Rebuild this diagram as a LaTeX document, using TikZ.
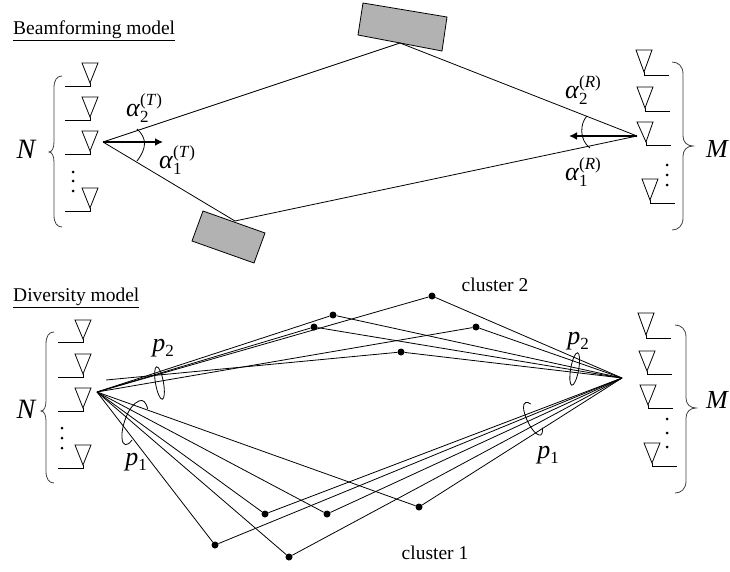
\documentclass[tikz,border=0pt]{standalone}
\usepackage{fontspec}
\setmainfont{Liberation Serif}
\usetikzlibrary{arrows.meta}
\tikzset{
 x=1pt,y=-1pt,
 ln/.style={line width=0.8pt,black},
 ant/.style={line width=0.8pt,black,line join=miter},
 brc/.style={line width=0.8pt,black!75},
 sc/.style={draw=black,line width=0.8pt,fill=black!30},
 pt/.style={circle,fill=black,inner sep=0pt,minimum size=7pt},
 hd/.style={inner sep=0pt,font=\fontsize{19.5}{22}\selectfont},
 big/.style={inner sep=0pt,font=\fontsize{28}{30}\selectfont\itshape},
 bigm/.style={inner sep=0pt,font=\fontsize{26}{28}\selectfont\itshape},
 lab/.style={inner sep=0pt,font=\fontsize{26}{28}\selectfont},
 cl/.style={inner sep=0pt,font=\fontsize{19.5}{22}\selectfont},
 dotn/.style={circle,fill=black,inner sep=0pt,minimum size=3pt},
 thick arrow/.style={line width=1.6pt,-{Latex[length=8pt,width=8pt]}},
}
\newcommand{\antenna}[6]{%
 \draw[ant] (#1,#2) -- (#1+16,#2) -- (#3,#4-3) -- cycle;
 \draw[ant] (#3,#4-3) -- (#3,#4) -- (#5,#4);
 \coordinate (#6) at (#5,#4);
}
\newcommand{\bracel}[4]{%
 \draw[brc] (#1,#2) .. controls (#1-5,#2) and (#1-8,#2+4) .. (#1-8,#2+12)
  -- (#1-8,#3-10) .. controls (#1-8,#3-4) and (#1-10,#3) .. (#1-13,#3)
  .. controls (#1-10,#3) and (#1-8,#3+4) .. (#1-8,#3+10)
  -- (#1-8,#4-12) .. controls (#1-8,#4-4) and (#1-5,#4) .. (#1,#4);
}
\newcommand{\bracer}[4]{%
 \draw[brc] (#1,#2) .. controls (#1+6,#2) and (#1+11,#2+4) .. (#1+11,#2+12)
  -- (#1+11,#3-10) .. controls (#1+11,#3-4) and (#1+15,#3) .. (#1+21,#3)
  .. controls (#1+15,#3) and (#1+11,#3+4) .. (#1+11,#3+10)
  -- (#1+11,#4-12) .. controls (#1+11,#4-4) and (#1+6,#4) .. (#1,#4);
}
\newcommand{\alphalab}[2]{\textit{α}\rlap{\raisebox{-6pt}{\fontsize{17}{18}\selectfont #1}}\raisebox{11pt}{\fontsize{17}{18}\selectfont (\textit{#2})}}
\newcommand{\plab}[1]{\textit{p}\raisebox{-5pt}{\fontsize{17}{18}\selectfont #1}}
\begin{document}
\begin{tikzpicture}
\useasboundingbox (0,0) rectangle (730,572);
% ---------- headings
\node[hd,anchor=west] (h1) at (13,31) {\underline{Beamforming model}};
\node[hd,anchor=west] (h2) at (13,298) {\underline{Diversity model}};
% ---------- top antennas left
\antenna{82}{63}{90}{86}{65}{a1}
\antenna{82}{97}{90}{120}{65}{a2}
\antenna{82}{131}{90}{154}{65}{a3}
\antenna{82}{188}{90}{211}{65}{a4}
\foreach \n/\y in {d1/172,d2/181,d3/191}{\node[dotn] (\n) at (73,\y) {};}
\bracel{62}{76}{152}{227}
\node[big] (N1) at (26,149) {N};
% top antennas right
\antenna{636}{50}{644}{75}{669}{b1}
\antenna{637}{87}{645}{111}{670}{b2}
\antenna{637}{122}{646}{145}{671}{b3}
\antenna{642}{179}{650}{203}{675}{b4}
\foreach \n/\y in {e1/165,e2/175,e3/185}{\node[dotn] (\n) at (667,\y) {};}
\bracer{672}{62}{146}{230}
\node[bigm] (M1) at (717,149) {M};
% scatterers
\draw[sc] (363,3) -- (447,17) -- (442,51) -- (358,35) -- cycle;
\draw[sc] (203,211) -- (265,233) -- (254,263) -- (192,241) -- cycle;
\coordinate (tx) at (103,142);
\coordinate (rx) at (637,136);
\coordinate (s2) at (400,43);
\coordinate (s1) at (235,221);
\draw[ln] (tx) -- (s2) -- (rx);
\draw[ln] (tx) -- (s1) -- (rx);
\coordinate (txe) at (163,142);
\coordinate (rxe) at (569,136);
\draw[thick arrow] (tx) -- (txe);
\draw[thick arrow] (rx) -- (rxe);
\draw[ln] (137,129) .. controls (147,138) and (147,148) .. (137,161);
\draw[ln] (587,116) .. controls (580,123) and (579,140) .. (590,148);
\node[lab] (a2t) at (144,108) {\alphalab{2}{T}};
\node[lab] (a1t) at (177,160) {\alphalab{1}{T}};
\node[lab] (a2r) at (583,90) {\alphalab{2}{R}};
\node[lab] (a1r) at (583,172) {\alphalab{1}{R}};
% ---------- diversity model antennas
\antenna{75}{320}{83}{342}{58}{c1}
\antenna{75}{354}{83}{377}{58}{c2}
\antenna{75}{388}{83}{411}{58}{c3}
\antenna{75}{445}{83}{468}{58}{c4}
\foreach \n/\y in {f1/428,f2/438,f3/448}{\node[dotn] (\n) at (62,\y) {};}
\bracel{54}{332}{411}{483}
\node[big] (N2) at (26,409) {N};
\antenna{638}{313}{646}{338}{671}{g1}
\antenna{639}{351}{647}{374}{672}{g2}
\antenna{640}{385}{648}{408}{673}{g3}
\antenna{644}{443}{652}{466}{677}{g4}
\foreach \n/\y in {k1/419,k2/433,k3/447}{\node[dotn] (\n) at (667,\y) {};}
\bracer{675}{325}{408}{493}
\node[bigm] (M2) at (717,400) {M};
% ---------- clusters
\coordinate (o) at (97,392);
\coordinate (o2) at (106,380);
\coordinate (r) at (622,378);
\foreach \n/\p in {u1/{432,296},u2/{333,315},u3/{314,327},u4/{476,327}}{
 \node[pt] (\n) at (\p) {};
 \draw[ln] (o) -- (\n) -- (r);
}
\node[pt] (u5) at (401,352) {};
\draw[ln] (o2) -- (u5) -- (r);
\foreach \n/\p in {v1/{265,514},v2/{327,514},v3/{419,507},v4/{215,545},v5/{289,557}}{
 \node[pt] (\n) at (\p) {};
 \draw[ln] (o) -- (\n) -- (r);
}
% ellipses
\draw[ln,rotate around={10:(159.5,383)}] (159.5,383) ellipse [x radius=4,y radius=16.5];
\draw[ln] (147.7,409) .. controls (146,402) and (143,399) .. (139,401) .. controls (128,405) and (121,428) .. (122,438) .. controls (122.5,446) and (127,447) .. (132,440);
\draw[ln,rotate around={-10:(574.7,369)}] (574.7,369) ellipse [x radius=4,y radius=16.5];
\draw[ln] (530.7,404) .. controls (527,401) and (523,402) .. (523.5,408) .. controls (524,416) and (532,433) .. (539,435) .. controls (542,436) and (543,432) .. (542.3,427.7);
\node[lab] (p2a) at (163,348) {\plab{2}};
\node[lab] (p1a) at (136,462) {\plab{1}};
\node[lab] (p2b) at (578,341) {\plab{2}};
\node[lab] (p1b) at (548,455) {\plab{1}};
\node[cl] (c2) at (495,285) {cluster 2};
\node[cl] (c1) at (435,553) {cluster 1};
\end{tikzpicture}
\end{document}
